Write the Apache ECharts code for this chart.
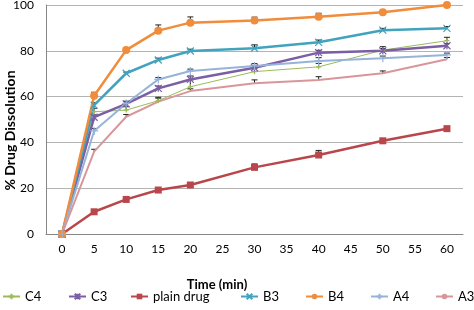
<!DOCTYPE html>
<html>
<head>
<meta charset="utf-8">
<script src="https://cdn.jsdelivr.net/npm/echarts@6/dist/echarts.min.js"></script>
<style>
  html, body { margin: 0; padding: 0; background: #fff; }
  #main { width: 474px; height: 310px; }
</style>
</head>
<body>
<div id="main"></div>
<script>
// time axis (min) - every 5 min shown, samples taken at 0,5,10,15,20,30,40,50,60
var times = ['0', '5', '10', '15', '20', '25', '30', '35', '40', '45', '50', '55', '60'];
var names = ['C4', 'C3', 'plain drug', 'B3', 'B4', 'A4', 'A3'];

var c4 = [0, 53.4, 54.1, 58.2, 64.3, null, 70.9, null, 73, null, 80.3, null, 84.4];
var c3 = [0, 51, 56.8, 63.6, 67.5, null, 72.6, null, 79.2, null, 80, null, 82.2];
var plainDrug = [0, 9.7, 15.1, 19.2, 21.4, null, 29.1, null, 34.5, null, 40.7, null, 46];
var b3 = [0, 56.3, 70.2, 76, 79.9, null, 81.1, null, 83.7, null, 89, null, 89.8];
var b4 = [0, 60.4, 80.3, 88.8, 92.3, null, 93.2, null, 94.9, null, 96.8, null, 100];
var a4 = [0, 45, 57, 67.5, 71.2, null, 73.4, null, 75.5, null, 76.7, null, 78.2];
var a3 = [0, 36, 51.2, 57.8, 62.4, null, 65.8, null, 67.2, null, 70.2, null, 76.3];

// standard deviation (upper bars only)
var c4Err = [0, 1.5, 1.5, 1.5, 3, null, 1.5, null, 1.5, null, 1.5, null, 1.5];
var c3Err = [0, 1, 1, 1, 1.5, null, 1, null, 1, null, 1, null, 1];
var plainErr = [0, 0.5, 0.5, 0.5, 0.8, null, 1.5, null, 2, null, 0.5, null, 0.5];
var b3Err = [0, 1, 0.5, 0.8, 0.8, null, 1.5, null, 1, null, 0.8, null, 0.8];
var b4Err = [0, 1.5, 1, 2.5, 2.5, null, 1.5, null, 1.5, null, 0.5, null, 0.5];
var a4Err = [0, 1, 1, 0.8, 0.8, null, 1, null, 1.5, null, 1, null, 0.8];
var a3Err = [0, 1, 1, 1.5, 1, null, 1.5, null, 1.5, null, 1, null, 0.8];

var myChart = echarts.init(document.getElementById('main'));

var xMark = 'path://M0,0L10,10M10,0L0,10';
var starMark = 'path://M0,0L10,10M10,0L0,10M5,0L5,10';
var plusMark = 'path://M5,0L5,10M0,5L10,5';

function lineSeries(name, data, color, width, symbol, size, stroked) {
    return {
        name: name,
        type: 'line',
        data: data,
        connectNulls: true,
        symbol: symbol,
        symbolSize: size,
        showSymbol: true,
        color: color,
        lineStyle: { color: color, width: width },
        itemStyle: stroked ? { color: 'rgba(0,0,0,0)', borderColor: color, borderWidth: 1.2 } : { color: color },
        z: 3
    };
}

function errSeries(name, vals, errs) {
    var d = [];
    for (var i = 0; i < vals.length; i++) {
        if (vals[i] != null && errs[i]) d.push([i, vals[i], vals[i] + errs[i]]);
    }
    return {
        name: name + ' err',
        type: 'custom',
        data: d,
        z: 2,
        silent: true,
        renderItem: function (params, api) {
            var lo = api.coord([api.value(0), api.value(1)]);
            var hi = api.coord([api.value(0), api.value(2)]);
            return {
                type: 'group',
                children: [
                    { type: 'line', shape: { x1: lo[0], y1: lo[1], x2: hi[0], y2: hi[1] }, style: { stroke: '#222', lineWidth: 1 } },
                    { type: 'line', shape: { x1: lo[0] - 3, y1: hi[1], x2: lo[0] + 3, y2: hi[1] }, style: { stroke: '#222', lineWidth: 1 } }
                ]
            };
        }
    };
}

// one legend per entry so each sits where the original puts it
var legendLeft = [2, 68, 130, 240, 305, 370, 435];
var legends = names.map(function (n, i) {
    return {
        left: legendLeft[i],
        top: 290,
        padding: 0,
        itemWidth: 17,
        itemHeight: 7,
        itemGap: 0,
        textStyle: { fontSize: 13, color: '#000', fontFamily: 'Lato' },
        data: [n]
    };
});

var option = {
    animation: false,
    textStyle: { fontFamily: 'Lato' },
    grid: { left: 46, top: 5, width: 417, height: 229, outerBoundsMode: 'none', containLabel: false },
    xAxis: {
        type: 'category',
        data: times,
        boundaryGap: true,
        name: 'Time (min)',
        nameLocation: 'middle',
        nameGap: 44,
        nameTextStyle: { fontWeight: 'bold', fontSize: 13, color: '#000', padding: [0, 75, 0, 0] },
        axisLine: { lineStyle: { color: '#868686' } },
        axisTick: { show: false },
        axisLabel: { color: '#000', fontSize: 12, margin: 9 }
    },
    yAxis: {
        type: 'value',
        min: 0,
        max: 100,
        interval: 20,
        name: '% Drug Dissolution',
        nameLocation: 'middle',
        nameGap: 29,
        nameMoveOverlap: false,
        nameTextStyle: { fontWeight: 'bold', fontSize: 14, color: '#000', padding: [0, 22, 0, 0] },
        axisLine: { show: true, lineStyle: { color: '#868686' } },
        axisTick: { show: false },
        axisLabel: { color: '#000', fontSize: 12, margin: 12 },
        splitLine: { lineStyle: { color: '#b3b3b3' } }
    },
    legend: legends,
    series: [
        lineSeries('C4', c4, '#9bbb59', 1, plusMark, 5, true),
        lineSeries('C3', c3, '#7b5ea3', 2.5, starMark, 7, true),
        lineSeries('plain drug', plainDrug, '#b9464a', 2.5, 'rect', 7, false),
        lineSeries('B3', b3, '#41a3bd', 2.5, xMark, 7, true),
        lineSeries('B4', b4, '#f08c3a', 2.5, 'circle', 8, false),
        lineSeries('A4', a4, '#96b3da', 2, plusMark, 8, true),
        lineSeries('A3', a3, '#d9969a', 2, 'none', 1, false),
        errSeries('C4', c4, c4Err),
        errSeries('C3', c3, c3Err),
        errSeries('plain drug', plainDrug, plainErr),
        errSeries('B3', b3, b3Err),
        errSeries('B4', b4, b4Err),
        errSeries('A4', a4, a4Err),
        errSeries('A3', a3, a3Err)
    ]
};

myChart.setOption(option);
</script>
</body>
</html>
